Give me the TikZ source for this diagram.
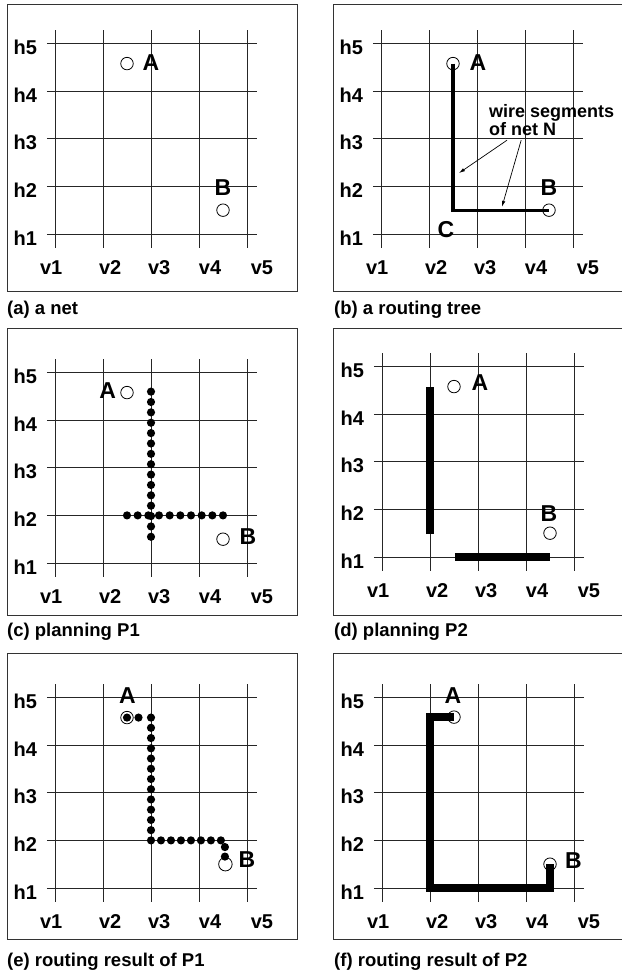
\documentclass[tikz,border=0pt]{standalone}
\usepackage{fontspec}
\setmainfont{Liberation Sans}
\usetikzlibrary{arrows.meta}

% grid of one panel, #1 = panel prefix for node names
\newcommand{\routegrid}[1]{%
  \foreach \n in {1,...,5} {
    \draw[gridline] (\n-1,-0.29) -- (\n-1,4.29);
    \draw[gridline] (-0.17,\n-1) -- (4.21,\n-1);
    \node[axislabel] (#1-h\n) at (-0.62,\n-1.08) {h\n};
  }
  \foreach \vx [count=\n] in {-0.08,1.15,2.17,3.23,4.31}
    \node[axislabel] (#1-v\n) at (\vx,-0.71) {v\n};
}

\begin{document}
\begin{tikzpicture}[
  x=1pt, y=1pt,
  gridline/.style={line width=0.9pt, draw=black!85},
  panelbox/.style={line width=1pt, draw=black!80},
  axislabel/.style={font=\fontsize{20}{22}\selectfont\bfseries, inner sep=0pt},
  pinname/.style={font=\fontsize{23}{26}\selectfont\bfseries, inner sep=0pt},
  pinmark/.style={circle, draw, line width=0.8pt, minimum size=12.5pt, inner sep=0pt},
  captext/.style={font=\fontsize{18.5}{21}\selectfont\bfseries, anchor=west, inner sep=0pt},
  notetext/.style={font=\fontsize{18}{16}\selectfont\bfseries, align=left, anchor=west, inner sep=0pt},
  wire/.style={line width=3.3pt},
  barwire/.style={line width=8pt, line join=miter},
  pointer/.style={line width=0.7pt, -{Latex[length=6pt,width=3.5pt]}},
  viadot/.style={fill=black}
]
\useasboundingbox (0,0) rectangle (621,971);

% panel frames
\draw[panelbox] (7,966) rectangle (297,679);
\draw[panelbox] (333,966) rectangle (626,679);
\draw[panelbox] (7,642) rectangle (297,355);
\draw[panelbox] (333,642) rectangle (626,355);
\draw[panelbox] (7,317) rectangle (297,31);
\draw[panelbox] (333,317) rectangle (626,31);

% captions
\node[captext] (cap-a) at (7,661) {(a) a net};
\node[captext] (cap-b) at (334,661) {(b) a routing tree};
\node[captext] (cap-c) at (7,339) {(c) planning P1};
\node[captext] (cap-d) at (334,339) {(d) planning P2};
\node[captext] (cap-e) at (7,9) {(e) routing result of P1};
\node[captext] (cap-f) at (334,9) {(f) routing result of P2};

% (a) a net
\begin{scope}[shift={(55pt,737pt)}, x=48pt, y=47.6pt]
  \routegrid{a}
  \node[pinmark] (a-A) at (1.5,3.58) {};
  \node[pinmark] (a-B) at (3.5,0.5) {};
  \node[pinname] (a-lA) at (2.0,3.61) {A};
  \node[pinname] (a-lB) at (3.5,0.97) {B};
\end{scope}

% (b) a routing tree
\begin{scope}[shift={(381pt,737pt)}, x=48pt, y=47.6pt]
  \routegrid{b}
  \draw[wire] (1.5,3.58) |- (3.5,0.5);
  \node[pinmark] (b-A) at (1.5,3.58) {};
  \node[pinmark] (b-B) at (3.5,0.5) {};
  \node[pinname] (b-lA) at (2.02,3.61) {A};
  \node[pinname] (b-lB) at (3.5,0.97) {B};
  \node[pinname] (b-C) at (1.35,0.1) {C};
  \node[notetext] (b-note) at (2.25,2.39) {wire segments\\of net N};
  \coordinate (b-t1) at (2.625,1.97);
  \coordinate (b-h1) at (1.625,1.28);
  \coordinate (b-t2) at (2.92,1.97);
  \coordinate (b-h2) at (2.52,0.57);
  \draw[pointer] (b-t1) -- (b-h1);
  \draw[pointer] (b-t2) -- (b-h2);
\end{scope}

% (c) planning P1
\begin{scope}[shift={(55pt,408pt)}, x=48pt, y=47.6pt]
  \routegrid{c}
  \foreach \k in {0,...,14}
    \fill[viadot] (2,0.55+\k*3.05/14) circle[radius=4.1pt];
  \foreach \k in {0,...,9}
    \fill[viadot] (1.5+\k*2/9,1) circle[radius=4.1pt];
  \node[pinmark] (c-A) at (1.5,3.58) {};
  \node[pinmark] (c-B) at (3.5,0.5) {};
  \node[pinname] (c-lA) at (1.1,3.62) {A};
  \node[pinname] (c-lB) at (4.02,0.55) {B};
\end{scope}

% (d) planning P2
\begin{scope}[shift={(382pt,414pt)}, x=48pt, y=47.6pt]
  \routegrid{d}
  \draw[barwire] (1,0.48) -- (1,3.58);
  \draw[barwire] (1.52,0) -- (3.5,0);
  \node[pinmark] (d-A) at (1.5,3.58) {};
  \node[pinmark] (d-B) at (3.5,0.5) {};
  \node[pinname] (d-lA) at (2.04,3.66) {A};
  \node[pinname] (d-lB) at (3.48,0.92) {B};
\end{scope}

% (e) routing result of P1
\begin{scope}[shift={(55pt,83pt)}, x=48pt, y=47.6pt]
  \routegrid{e}
  \foreach \k in {0,1}
    \fill[viadot] (1.5+\k*0.24,3.58) circle[radius=4.1pt];
  \foreach \k in {0,...,12}
    \fill[viadot] (2,3.58-\k*2.58/12) circle[radius=4.1pt];
  \foreach \k in {1,...,7}
    \fill[viadot] (2+\k*0.208,1) circle[radius=4.1pt];
  \fill[viadot] (3.54,0.86) circle[radius=4.1pt];
  \fill[viadot] (3.54,0.66) circle[radius=4.1pt];
  \node[pinmark] (e-A) at (1.5,3.58) {};
  \node[pinmark, minimum size=13.5pt] (e-B) at (3.55,0.5) {};
  \node[pinname] (e-lA) at (1.51,4.05) {A};
  \node[pinname] (e-lB) at (4.0,0.59) {B};
\end{scope}

% (f) routing result of P2
\begin{scope}[shift={(382pt,83pt)}, x=48pt, y=47.6pt]
  \routegrid{f}
  \draw[barwire] (1.5,3.59) -| (1,0) -| (3.5,0.5);
  \node[pinmark] (f-A) at (1.5,3.59) {};
  \node[pinmark] (f-B) at (3.5,0.5) {};
  \node[pinname] (f-lA) at (1.48,4.05) {A};
  \node[pinname] (f-lB) at (3.99,0.57) {B};
\end{scope}
\end{tikzpicture}
\end{document}
